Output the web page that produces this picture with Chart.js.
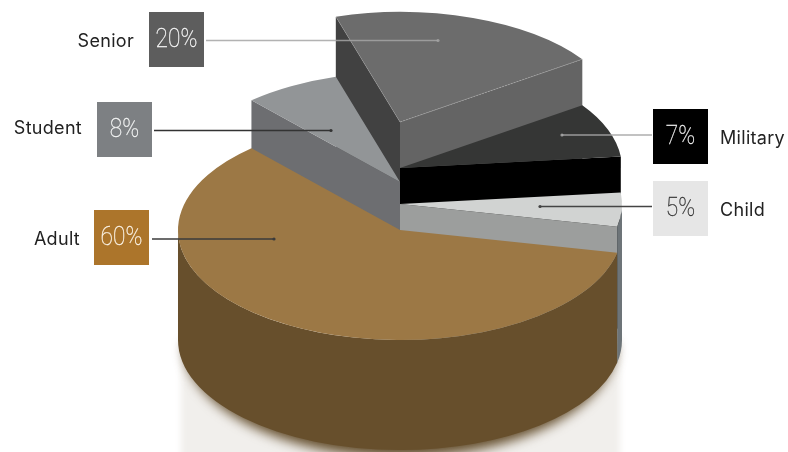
<!DOCTYPE html>
<html>
<head>
<meta charset="utf-8">
<style>html,body{margin:0;padding:0;background:#fff}canvas{display:block}</style>
<script src="https://cdn.jsdelivr.net/npm/chart.js@4"></script>
</head>
<body>
<canvas id="c" width="788" height="452"></canvas>
<script>
// data
const categories = ['Adult', 'Student', 'Senior', 'Military', 'Child'];
// sweep of each slice as measured on the picture (the printed labels below differ slightly for Student/Military)
const sliceSweeps = [60, 7, 20, 8, 5];
const shareLabels = ['60%', '8%', '20%', '7%', '5%'];
// per-slice extrusion height in px
const sliceHeights = [110, 158, 218, 172, 136];
// styles
const topColors = ['#9c7845', '#929597', '#6c6c6c', '#353635', '#d1d3d2'];
const startFaceColors = ['#674f2c', '#6d6e71', '#414141', '#000000', '#9c9e9d'];
const endFaceColors = ['#674f2c', '#6d6e71', '#646464', '#000000', '#9c9e9d'];
const wallColors = ['#674f2c', '#6d6e71', '#646464', '#000000', '#6d7478'];
const boxColors = ['#ac752b', '#7d8083', '#5d5d5d', '#000000', '#e6e6e6'];
const boxTextColors = ['#fbf3e6', '#f4f5f5', '#f6f6f6', '#f0f0f0', '#333333'];
const lineColors = ['#3b3b3b', '#333333', 'rgba(165,165,165,.85)', 'rgba(165,165,165,.9)', '#444444'];
// callout layout
const boxLeft = [94, 97, 149, 653, 653];
const boxTop = [210, 102, 12, 109, 181];
const leaderY = [239, 130.5, 40.5, 135, 206.5];
const leaderFrom = [152, 154, 206, 652, 652];
const leaderTo = [274, 331, 438, 562, 540];
const labelX = [80, 82, 134, 720, 720];
const labelAlign = ['right', 'right', 'right', 'left', 'left'];
const labelY = [240, 129, 42, 139, 211];
const paintOrder = [2, 3, 4, 1, 0];
const boxSize = 55, squash = 110 / 222, baseY = 340;

const pie3d = {
  id: 'pie3d',
  beforeDatasetsDraw(chart) {
    const ctx = chart.ctx;
    const arcs = chart.getDatasetMeta(0).data;
    const cx = arcs[0].x, cy0 = arcs[0].y, R = arcs[0].outerRadius;
    // ground glow
    ctx.save();
    ctx.beginPath(); ctx.rect(0, 0, 788, 452); ctx.clip();
    ctx.filter = 'blur(3px)';
    ctx.fillStyle = '#f1efec';
    ctx.fillRect(cx - R + 3, baseY, 2 * R - 5, 130);
    ctx.filter = 'blur(6px)';
    ctx.fillStyle = 'rgba(100,78,45,1)';
    ctx.beginPath();
    ctx.ellipse(cx, baseY + 4, R - 6, R * squash + 3, 0, 0, Math.PI);
    ctx.fill();
    ctx.restore();

    const pt = (a, r, y) => [cx + r * Math.cos(a), y + squash * r * Math.sin(a)];
    const face = (a, h, color) => {
      const top = baseY - h;
      const o = pt(a, R, top), o2 = pt(a, R, baseY);
      ctx.fillStyle = color;
      ctx.beginPath();
      ctx.moveTo(cx, top); ctx.lineTo(o[0], o[1]); ctx.lineTo(o2[0], o2[1]); ctx.lineTo(cx, baseY);
      ctx.closePath(); ctx.fill();
    };
    const wall = (a0, a1, h, color) => {
      [[0, Math.PI], [2 * Math.PI, 3 * Math.PI]].forEach(([lo, hi]) => {
        const s = Math.max(a0, lo), e = Math.min(a1, hi);
        if (e <= s) return;
        ctx.fillStyle = color;
        ctx.beginPath();
        ctx.ellipse(cx, baseY - h, R, R * squash, 0, s, e);
        ctx.ellipse(cx, baseY, R, R * squash, 0, e, s, true);
        ctx.closePath(); ctx.fill();
      });
    };
    paintOrder.forEach(i => {
      const arc = arcs[i], h = sliceHeights[i];
      const a0 = arc.startAngle, a1 = arc.endAngle;
      if (Math.cos(a0) < 0) face(a0, h, startFaceColors[i]);
      if (Math.cos(a1) > 0) face(a1, h, endFaceColors[i]);
      wall(a0, a1, h, wallColors[i]);
      ctx.save();
      ctx.translate(cx, baseY - h);
      ctx.scale(1, squash);
      ctx.translate(-cx, -cy0);
      arc.draw(ctx);
      ctx.restore();
      if (categories[i] === 'Senior') {
        const top = baseY - h;
        const p0 = pt(a0, R, top), p1 = pt(a1, R, top);
        ctx.lineWidth = 0.8;
        ctx.strokeStyle = 'rgba(190,190,190,.3)';
        ctx.beginPath(); ctx.moveTo(p0[0], p0[1]); ctx.lineTo(cx, top); ctx.stroke();
        ctx.strokeStyle = 'rgba(190,190,190,.5)';
        ctx.setLineDash([2, 1]);
        ctx.beginPath(); ctx.moveTo(cx, top); ctx.lineTo(p1[0], p1[1]); ctx.stroke();
        ctx.setLineDash([]);
      }
    });
    return false;
  },
  afterDraw(chart) {
    const ctx = chart.ctx;
    categories.forEach((name, i) => {
      const x = boxLeft[i], y = boxTop[i];
      ctx.fillStyle = boxColors[i];
      ctx.fillRect(x, y, boxSize, boxSize);
      ctx.strokeStyle = lineColors[i];
      ctx.lineWidth = 1.3;
      ctx.beginPath();
      ctx.moveTo(leaderFrom[i], leaderY[i]);
      ctx.lineTo(leaderTo[i], leaderY[i]);
      ctx.stroke();
      ctx.fillStyle = lineColors[i];
      ctx.beginPath();
      ctx.arc(leaderTo[i], leaderY[i], 1.6, 0, 2 * Math.PI);
      ctx.fill();
      ctx.save();
      ctx.translate(x + boxSize / 2, y + boxSize / 2 + 1);
      ctx.scale(0.89, 1);
      ctx.font = '100 25.5px Roboto';
      ctx.textAlign = 'center';
      ctx.textBaseline = 'middle';
      ctx.fillStyle = boxTextColors[i];
      ctx.strokeStyle = boxTextColors[i];
      ctx.lineWidth = 0.3;
      ctx.fillText(shareLabels[i], 0, 0);
      ctx.strokeText(shareLabels[i], 0, 0);
      ctx.restore();
      ctx.font = '400 18px Inter';
      ctx.letterSpacing = '0.3px';
      ctx.textAlign = labelAlign[i];
      ctx.textBaseline = 'middle';
      ctx.fillStyle = '#222222';
      ctx.fillText(name, labelX[i], labelY[i]);
      ctx.letterSpacing = '0px';
    });
  }
};

new Chart(document.getElementById('c'), {
  type: 'pie',
  data: {
    labels: categories,
    datasets: [{ data: sliceSweeps, backgroundColor: topColors, borderWidth: 0 }]
  },
  options: {
    responsive: false,
    animation: false,
    rotation: 102,
    layout: { padding: { left: 12, top: 4, bottom: 4, right: 0 } },
    plugins: { legend: { display: false }, tooltip: { enabled: false } }
  },
  plugins: [pie3d]
});
</script>
</body>
</html>
